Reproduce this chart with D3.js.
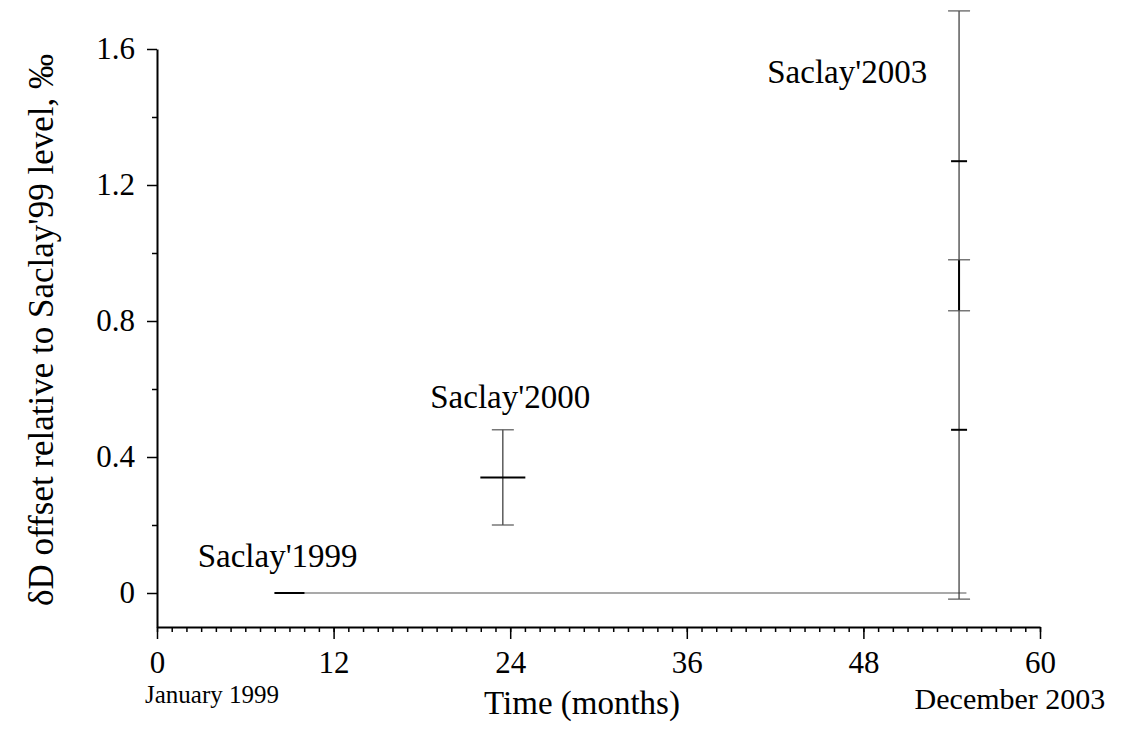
<!DOCTYPE html>
<html>
<head>
<meta charset="utf-8">
<script src="https://cdn.jsdelivr.net/npm/d3@7"></script>
<style>
  body { margin: 0; background: #fff; }
  text { font-family: "Liberation Serif", "Times New Roman", serif; fill: #000; }
</style>
</head>
<body>
<div id="chart"></div>
<script>
// month offsets from January 1999, values in per mil
const xTicks = [0, 12, 24, 36, 48, 60];
const yTicks = [0, 0.4, 0.8, 1.2, 1.6];
const yMinorTicks = [0.2, 0.6, 1.0, 1.4];

// reference level line (Saclay'99 = 0)
const baselineMonths = [8, 55];
const baselineValues = [0, 0];

// error bars: month, low, high
const errMonths = [23.5, 54.5, 54.5];
const errLow = [0.20, -0.018, 0.83];
const errHigh = [0.48, 1.712, 0.98];

// centre marks: month, value
const markMonths = [9, 23.5, 54.5, 54.5];
const markValues = [0, 0.34, 1.27, 0.48];

// labels
const labelNames = ["Saclay'1999", "Saclay'2000", "Saclay'2003"];
const labelMonths = [8.2, 24, 46.9];
const labelValues = [0.076, 0.544, 1.5];

const w = 1121;
const h = 729;

// half widths (px) of the centre marks, kept apart from the data
const markHalf = [15, 22.5, 8, 8];
const capHalf = 11;

const xScale = d3.scaleLinear()
  .domain([0, 60])
  .range([157, 1040]);

const yScale = d3.scaleLinear()
  .domain([-0.1, 1.6])
  .range([627, 49]);

const svg = d3.select("#chart")
  .append("svg")
  .attr("width", w)
  .attr("height", h);

// x axis: minor monthly ticks, then major yearly ones
svg.append("g")
  .attr("transform", "translate(0,627)")
  .call(d3.axisBottom(xScale).tickValues(d3.range(0, 61)).tickSize(5).tickSizeOuter(0).tickFormat(""))
  .call(g => g.select(".domain").remove())
  .call(g => g.selectAll("line").attr("stroke-width", 1.5));

svg.append("g")
  .attr("transform", "translate(0,627)")
  .call(d3.axisBottom(xScale).tickValues(xTicks).tickSize(12).tickSizeOuter(0).tickPadding(12))
  .call(g => g.select(".domain").attr("stroke-width", 2))
  .call(g => g.selectAll("line").attr("stroke-width", 1.5))
  .call(g => g.selectAll("text").attr("font-size", 31).attr("font-family", "Liberation Serif"));

// y axis
svg.append("g")
  .attr("transform", "translate(157,0)")
  .call(d3.axisLeft(yScale).tickValues(yMinorTicks).tickSize(5).tickSizeOuter(0).tickFormat(""))
  .call(g => g.select(".domain").remove())
  .call(g => g.selectAll("line").attr("stroke-width", 1.5));

svg.append("g")
  .attr("transform", "translate(157,0)")
  .call(d3.axisLeft(yScale).tickValues(yTicks).tickSize(10).tickSizeOuter(0).tickPadding(12)
    .tickFormat(d => d === 0 ? "0" : d3.format(".1f")(d)))
  .call(g => g.select(".domain").attr("stroke-width", 2))
  .call(g => g.selectAll("line").attr("stroke-width", 1.5))
  .call(g => g.selectAll("text").attr("font-size", 31).attr("font-family", "Liberation Serif"));

// axis titles
svg.append("text")
  .attr("x", 582)
  .attr("y", 714)
  .attr("text-anchor", "middle")
  .attr("font-size", 33)
  .text("Time (months)");

svg.append("text")
  .attr("x", 212)
  .attr("y", 703)
  .attr("text-anchor", "middle")
  .attr("font-size", 25)
  .text("January 1999");

svg.append("text")
  .attr("x", 1010)
  .attr("y", 709)
  .attr("text-anchor", "middle")
  .attr("font-size", 30)
  .text("December 2003");

svg.append("text")
  .attr("transform", "translate(53,330) rotate(-90)")
  .attr("text-anchor", "middle")
  .attr("font-size", 35)
  .text("\u03b4D offset relative to Saclay'99 level, \u2030");

// baseline
svg.append("line")
  .attr("x1", xScale(baselineMonths[0]))
  .attr("x2", xScale(baselineMonths[1]))
  .attr("y1", yScale(baselineValues[0]))
  .attr("y2", yScale(baselineValues[1]))
  .attr("stroke", "#555")
  .attr("stroke-width", 1.2);

// error bars
const errs = errMonths.map((m, i) => ({ m: m, lo: errLow[i], hi: errHigh[i], inner: i === 2 }));

const eb = svg.selectAll(".err")
  .data(errs)
  .enter()
  .append("g")
  .attr("class", "err");

eb.append("line")
  .attr("x1", d => xScale(d.m))
  .attr("x2", d => xScale(d.m))
  .attr("y1", d => yScale(d.lo))
  .attr("y2", d => yScale(d.hi))
  .attr("stroke", d => d.inner ? "#000" : "#333")
  .attr("stroke-width", d => d.inner ? 2 : 1.2);

eb.selectAll(".cap")
  .data(d => [d.lo, d.hi].map(v => ({ m: d.m, v: v })))
  .enter()
  .append("line")
  .attr("class", "cap")
  .attr("x1", d => xScale(d.m) - capHalf)
  .attr("x2", d => xScale(d.m) + capHalf)
  .attr("y1", d => yScale(d.v))
  .attr("y2", d => yScale(d.v))
  .attr("stroke", "#555")
  .attr("stroke-width", 1.2);

// centre marks
svg.selectAll(".mark")
  .data(markMonths)
  .enter()
  .append("line")
  .attr("class", "mark")
  .attr("x1", (d, i) => xScale(d) - markHalf[i])
  .attr("x2", (d, i) => xScale(d) + markHalf[i])
  .attr("y1", (d, i) => yScale(markValues[i]))
  .attr("y2", (d, i) => yScale(markValues[i]))
  .attr("stroke", "#000")
  .attr("stroke-width", 2);

// point labels
svg.selectAll(".label")
  .data(labelNames)
  .enter()
  .append("text")
  .attr("class", "label")
  .attr("x", (d, i) => xScale(labelMonths[i]))
  .attr("y", (d, i) => yScale(labelValues[i]))
  .attr("text-anchor", "middle")
  .attr("font-size", 33)
  .text(d => d);
</script>
</body>
</html>
